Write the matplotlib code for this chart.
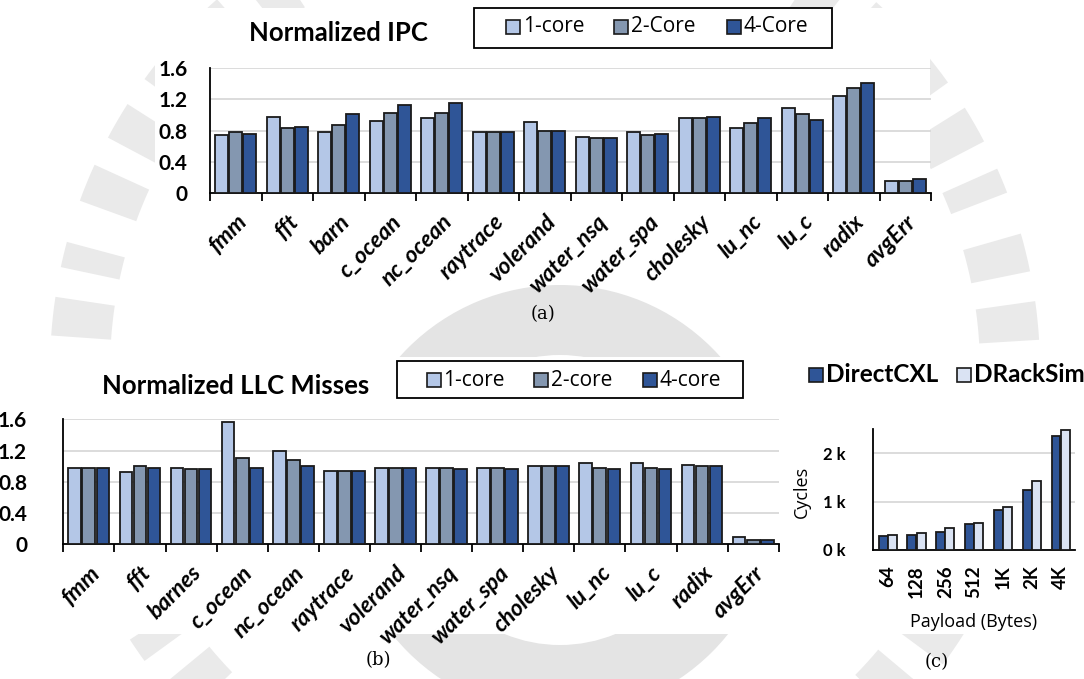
import matplotlib
matplotlib.use("Agg")
import matplotlib.pyplot as plt
import numpy as np
from matplotlib.patches import Rectangle, Wedge
from matplotlib.ticker import FixedLocator

# ---------------- data ----------------
ipc_categories = ["fmm", "fft", "barn", "c_ocean", "nc_ocean", "raytrace", "volerand",
                  "water_nsq", "water_spa", "cholesky", "lu_nc", "lu_c", "radix", "avgErr"]
ipc_1core = [0.74, 0.97, 0.78, 0.93, 0.96, 0.78, 0.91, 0.72, 0.78, 0.96, 0.84, 1.09, 1.25, 0.16]
ipc_2core = [0.78, 0.84, 0.87, 1.03, 1.03, 0.78, 0.79, 0.70, 0.74, 0.96, 0.90, 1.02, 1.35, 0.16]
ipc_4core = [0.76, 0.85, 1.02, 1.13, 1.15, 0.78, 0.79, 0.70, 0.76, 0.97, 0.96, 0.94, 1.41, 0.18]
ipc_labels = ["1-core", "2-Core", "4-Core"]

llc_categories = ["fmm", "fft", "barnes", "c_ocean", "nc_ocean", "raytrace", "volerand",
                  "water_nsq", "water_spa", "cholesky", "lu_nc", "lu_c", "radix", "avgErr"]
llc_1core = [0.98, 0.92, 0.98, 1.57, 1.20, 0.94, 0.98, 0.98, 0.98, 1.00, 1.04, 1.04, 1.02, 0.09]
llc_2core = [0.98, 1.00, 0.96, 1.10, 1.08, 0.94, 0.98, 0.98, 0.98, 1.00, 0.98, 0.98, 1.00, 0.05]
llc_4core = [0.98, 0.98, 0.96, 0.98, 1.00, 0.94, 0.98, 0.96, 0.96, 1.00, 0.96, 0.96, 1.00, 0.05]
llc_labels = ["1-core", "2-core", "4-core"]

payloads = ["64", "128", "256", "512", "1K", "2K", "4K"]
cycles_directcxl = [280, 310, 380, 530, 820, 1250, 2360]
cycles_dracksim = [320, 350, 460, 560, 890, 1430, 2490]
cycle_labels = ["DirectCXL", "DRackSim"]

# ---------------- style ----------------
C1, C2, C4 = "#B4C7E7", "#8497B0", "#2F5597"
C_LIGHT = "#DAE3F3"
EDGE = "#1a1a1a"
GRID = "#d9d9d9"
BOLD_FONT = "Lato"
TEXT_FONT = "Open Sans"
SERIF_FONT = "DejaVu Serif"

W, H = 1084, 679
fig = plt.figure(figsize=(W / 100, H / 100), dpi=100)


def box(x0, y0, x1, y1):
    """Pixel box (origin top-left) to figure-fraction rect."""
    return [x0 / W, 1 - y1 / H, (x1 - x0) / W, (y1 - y0) / H]


# ---------------- background emblem + panels ----------------
bg = fig.add_axes([0, 0, 1, 1], zorder=-10)
bg.set_xlim(0, W)
bg.set_ylim(H, 0)
bg.axis("off")
wm = "#eaeaea"
# outer lettering ring, broken into glyph-like blocks
for i, a0 in enumerate(np.arange(0, 360, 8)):
    span = 4.5 if i % 3 else 3.0
    bg.add_patch(Wedge((545, 370), 495, a0, a0 + span, width=60, color=wm, lw=0))
# inner seal ring
bg.add_patch(Wedge((560, 500), 215, 0, 360, width=70, color="#e4e4e4", lw=0))
# white panels behind each chart
for (x0, y0, x1, y1) in [(155, 8, 930, 282), (0, 357, 781, 634), (800, 357, 1084, 634)]:
    bg.add_patch(Rectangle((x0, y0), x1 - x0, y1 - y0, color="white", lw=0))

# overlay in pixel coordinates for legends
ov = fig.add_axes([0, 0, 1, 1], zorder=10)
ov.set_xlim(0, W)
ov.set_ylim(H, 0)
ov.axis("off")


def legend(entries, colors, xs, yc, size, fontprops, frame=None):
    if frame is not None:
        x0, y0, x1, y1 = frame
        ov.add_patch(Rectangle((x0, y0), x1 - x0, y1 - y0, facecolor="white",
                               edgecolor="black", lw=1.3))
    for label, c, x in zip(entries, colors, xs):
        ov.add_patch(Rectangle((x, yc - size / 2), size, size, facecolor=c,
                               edgecolor=EDGE, lw=1.2))
        ov.text(x + size + 3, yc, label, ha="left", va="center", **fontprops)


def style_axes(ax, n):
    ax.set_facecolor("none")
    for s in ("top", "right"):
        ax.spines[s].set_visible(False)
    for s in ("left", "bottom"):
        ax.spines[s].set_color("black")
        ax.spines[s].set_linewidth(1.3)
    ax.yaxis.grid(True, color=GRID, lw=1.3, zorder=0)
    ax.set_axisbelow(True)
    ax.set_xlim(-0.5, n - 0.5)
    ax.xaxis.set_minor_locator(FixedLocator(np.arange(n + 1) - 0.5))
    ax.tick_params(axis="x", which="minor", length=6, width=1.3, color="black")
    ax.tick_params(axis="x", which="major", length=0)
    ax.tick_params(axis="y", length=0)


def grouped_bars(ax, series, colors, width, offsets):
    x = np.arange(len(series[0]))
    for vals, c, off in zip(series, colors, offsets):
        ax.bar(x + off, vals, width, color=c, edgecolor=EDGE, linewidth=1.3, zorder=3)
    return x


def bench_panel(ax, cats, series, ypad):
    style_axes(ax, len(cats))
    x = grouped_bars(ax, series, [C1, C2, C4], 0.25, [-0.275, 0, 0.275])
    ax.set_ylim(0, 1.6)
    ax.set_yticks([0, 0.4, 0.8, 1.2, 1.6])
    ax.set_yticklabels(["0", "0.4", "0.8", "1.2", "1.6"], fontfamily=BOLD_FONT,
                       fontweight="bold", fontsize=15)
    ax.tick_params(axis="y", pad=ypad)
    ax.set_xticks(x)
    ax.set_xticklabels(cats, rotation=45, ha="right", va="top", rotation_mode="anchor",
                       fontfamily=BOLD_FONT, fontweight="bold", fontstyle="italic",
                       fontsize=16.5)
    ax.tick_params(axis="x", which="major", pad=13)


text_props = {"fontfamily": TEXT_FONT, "fontsize": 15}

# ---------------- (a) Normalized IPC ----------------
ax_a = fig.add_axes(box(210, 68.3, 931, 193))
bench_panel(ax_a, ipc_categories, [ipc_1core, ipc_2core, ipc_4core], 16)
fig.text(338 / W, 1 - 33 / H, "Normalized IPC", ha="center", va="center",
         fontfamily=BOLD_FONT, fontweight="bold", fontsize=18.5)
legend(ipc_labels, [C1, C2, C4], [506, 614, 727], 27, 14, text_props,
       frame=(474, 8, 832, 48))
fig.text(543 / W, 1 - 314 / H, "(a)", ha="center", va="center",
         fontfamily=SERIF_FONT, fontsize=13)

# ---------------- (b) Normalized LLC Misses ----------------
ax_b = fig.add_axes(box(63.3, 419.3, 778.7, 544.3))
bench_panel(ax_b, llc_categories, [llc_1core, llc_2core, llc_4core], 26)
fig.text(236 / W, 1 - 386 / H, "Normalized LLC Misses", ha="center", va="center",
         fontfamily=BOLD_FONT, fontweight="bold", fontsize=18.5)
legend(llc_labels, [C1, C2, C4], [427, 534, 643], 380, 13.5, text_props,
       frame=(397, 361, 743, 398))
fig.text(378 / W, 1 - 660 / H, "(b)", ha="center", va="center",
         fontfamily=SERIF_FONT, fontsize=13)

# ---------------- (c) Cycles vs payload ----------------
ax_c = fig.add_axes(box(873.3, 429.2, 1075, 550))
style_axes(ax_c, len(payloads))
ax_c.tick_params(axis="x", which="minor", length=0)
xc = grouped_bars(ax_c, [cycles_directcxl, cycles_dracksim], [C4, C_LIGHT], 0.31, [-0.16, 0.16])
ax_c.set_ylim(0, 2500)
ax_c.set_yticks([0, 1000, 2000])
ax_c.set_yticklabels([f"{v // 1000} k" for v in (0, 1000, 2000)], fontfamily=BOLD_FONT,
                     fontweight="bold", fontsize=12)
ax_c.tick_params(axis="y", pad=20)
ax_c.set_xticks(xc)
ax_c.set_xticklabels(payloads, rotation=90, fontfamily=BOLD_FONT, fontweight="bold",
                     fontsize=13.5)
ax_c.tick_params(axis="x", which="major", pad=11)
ax_c.set_ylabel("Cycles", fontfamily=TEXT_FONT, fontsize=13)
ax_c.yaxis.set_label_coords(-0.31, 0.48)
ax_c.set_xlabel("Payload (Bytes)", fontfamily=TEXT_FONT, fontsize=13)
ax_c.xaxis.set_label_coords(0.499, -0.52)
legend(cycle_labels, [C4, C_LIGHT], [809, 957], 375, 14,
       {"fontfamily": BOLD_FONT, "fontweight": "bold", "fontsize": 17.5})
fig.text(937 / W, 1 - 662 / H, "(c)", ha="center", va="center",
         fontfamily=SERIF_FONT, fontsize=13)

fig.savefig("out.png", dpi=100, facecolor="white")
